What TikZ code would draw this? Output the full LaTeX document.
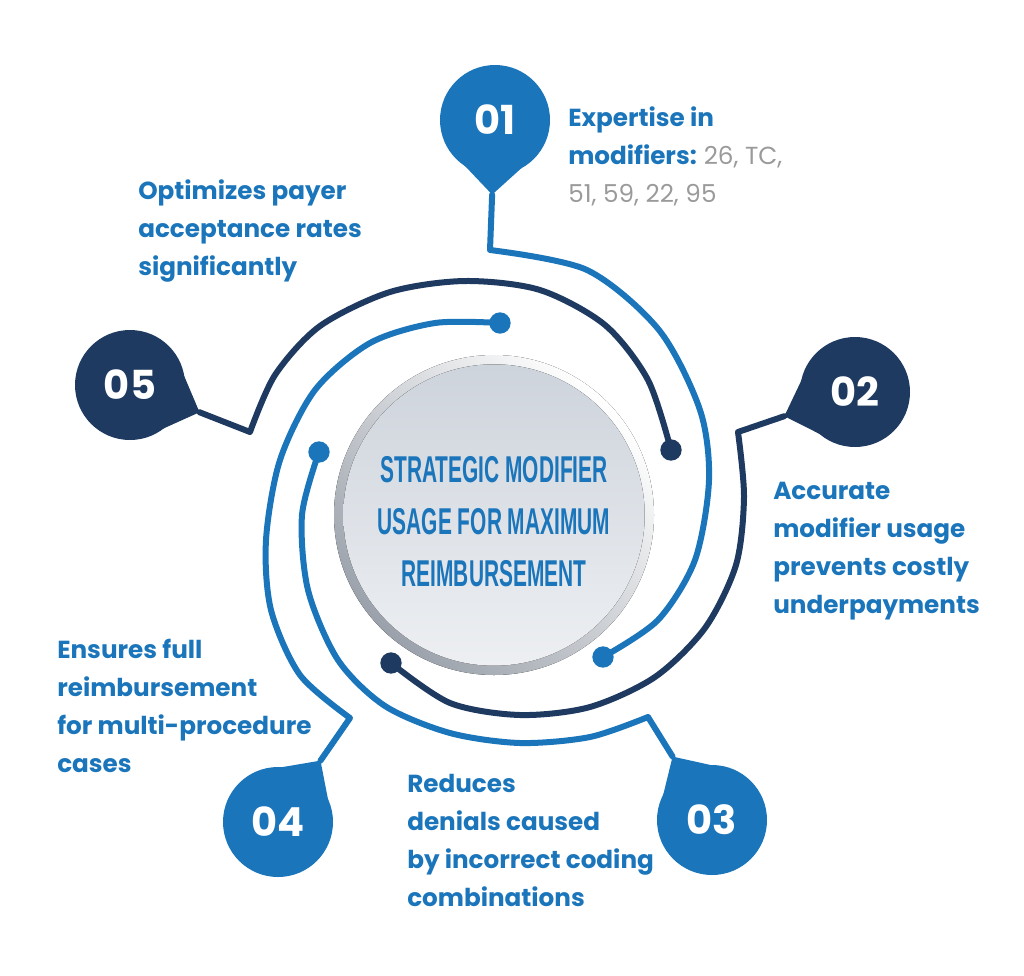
\documentclass[tikz,border=0pt]{standalone}
\usepackage{fontspec}
\setmainfont{Poppins}
\newfontfamily\condfont[FakeStretch=0.56]{Liberation Sans}
\usetikzlibrary{calc}
\definecolor{lblue}{HTML}{1B75BB}
\definecolor{navy}{HTML}{1F3A60}
\definecolor{txtgray}{HTML}{9A9A9A}
\tikzset{
  pin/.style={circle, minimum size=82.5pt, inner sep=0pt, text=white, font=\fontsize{30}{30}\selectfont\bfseries},
  link/.style={line width=4.5pt, line cap=round, line join=round},
  dot/.style={circle, minimum size=16pt, inner sep=0pt},
  label/.style={anchor=north west, align=left, text=lblue, inner sep=0pt, font=\fontsize{18.5}{28.5}\selectfont\bfseries},
}
% teardrop: circle plus a pointed tail towards the line start
\newcommand{\tear}[4]{%
  \coordinate (#1tip) at ($(#1)!56pt!(#3)$);
  \fill[#2] (#1tip) -- ($(#1)!41pt!32:(#3)$) -- ($(#1)!41pt!-32:(#3)$) -- cycle;
  \fill[#2] (#1) circle (41.25pt);
  \node[pin] at (#1) {#4};
}
\begin{document}
\begin{tikzpicture}[x=0.75pt, y=-0.75pt]
  \useasboundingbox (0,0) rectangle (1024,975);

  % centre disc
  \fill[left color=white, right color=white!45!navy!55!gray!80!white, shading angle=-45] (494,515) circle (120pt);
  \fill[top color=white!78!navy, bottom color=white!92!navy] (494,515) circle (113pt);
  \node[text=lblue, align=center, font=\condfont\bfseries\fontsize{28}{39}\selectfont] (hub) at (494,522)
    {STRATEGIC MODIFIER\\USAGE FOR MAXIMUM\\REIMBURSEMENT};

  % line ends
  \coordinate (e1) at (490,250);
  \coordinate (e2) at (738,432);
  \coordinate (e3) at (648,717);
  \coordinate (e4) at (350,718);
  \coordinate (e5) at (250,432);

  % pins
  \coordinate (c1) at (495,120);
  \coordinate (c2) at (855,392);
  \coordinate (c3) at (712,820);
  \coordinate (c4) at (278,822);
  \coordinate (c5) at (130,385);
  \tear{c1}{lblue}{e1}{01}
  \tear{c2}{navy}{e2}{02}
  \tear{c3}{lblue}{e3}{03}
  \tear{c4}{lblue}{e4}{04}
  \tear{c5}{navy}{e5}{05}

  % spiral links
  \draw[link, lblue] (c1tip) -- (e1) -- plot[smooth, tension=0.5] coordinates
    {(e1) (587,270) (659,330) (700,410) (709,480) (695,560) (658,620) (603,657)};
  \draw[link, navy] (c2tip) -- (e2) -- plot[smooth, tension=0.5] coordinates
    {(e2) (744,497) (736,565) (705,628) (655,677) (590,707) (520,715) (450,703) (391,663)};
  \draw[link, lblue] (c3tip) -- (e3) -- plot[smooth, tension=0.5] coordinates
    {(e3) (590,737) (520,743) (450,733) (385,706) (338,660) (308,590) (302,515) (319,452)};
  \draw[link, lblue] (c4tip) -- (e4) -- plot[smooth, tension=0.5] coordinates
    {(e4) (300,675) (271,610) (266,540) (280,460) (315,390) (370,343) (435,323) (500,323)};
  \draw[link, navy] (c5tip) -- (e5) -- plot[smooth, tension=0.5] coordinates
    {(e5) (275,375) (320,326) (390,292) (465,281) (540,290) (605,325) (648,380) (671,450)};

  % end dots
  \node[dot, fill=lblue] (d1) at (603,657) {};
  \node[dot, fill=navy] (d2) at (391,663) {};
  \node[dot, fill=lblue] (d3) at (319,452) {};
  \node[dot, fill=lblue] (d4) at (500,323) {};
  \node[dot, fill=navy] (d5) at (671,450) {};

  % texts
  \node[label] (t1) at (568,106) {Expertise in\\modifiers: {\mdseries\color{txtgray}26, TC,}\\{\mdseries\color{txtgray}51, 59, 22, 95}};
  \node[label] (t2) at (773,482) {Accurate\\modifier usage\\prevents costly\\underpayments};
  \node[label] (t3) at (407,774) {Reduces\\denials caused\\by incorrect coding\\combinations};
  \node[label] (t4) at (57,639) {Ensures full\\reimbursement\\for multi-procedure\\cases};
  \node[label] (t5) at (138,179) {Optimizes payer\\acceptance rates\\significantly};
\end{tikzpicture}
\end{document}
